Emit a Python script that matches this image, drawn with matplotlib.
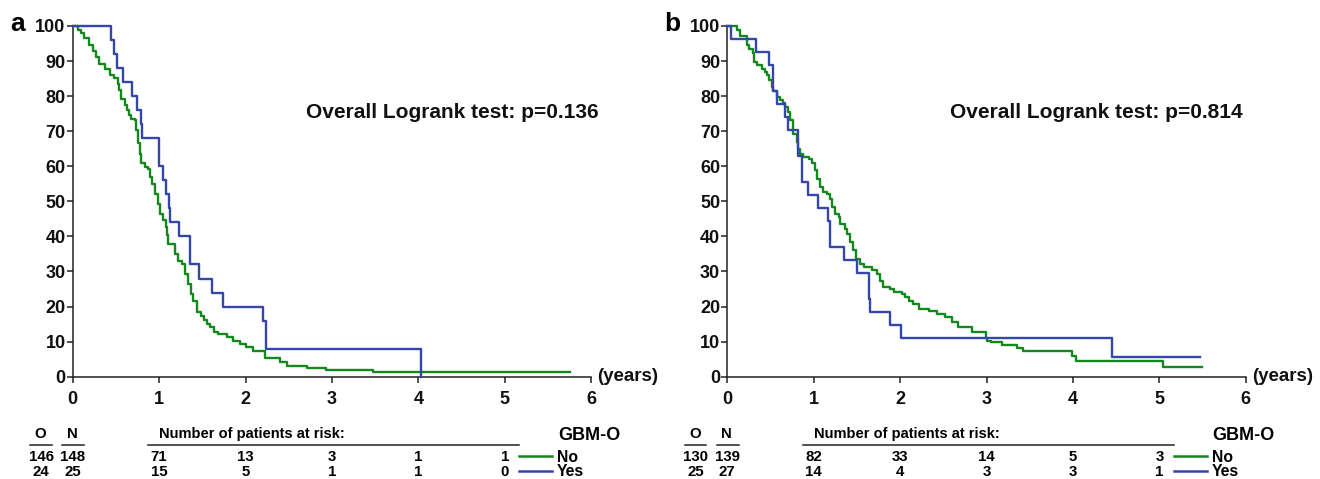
import matplotlib
matplotlib.use("Agg")
import matplotlib.pyplot as plt
from matplotlib.transforms import blended_transform_factory

plt.rcParams['font.family'] = ['Liberation Sans', 'DejaVu Sans']

# ---------------- data ----------------
years_ticks = [0, 1, 2, 3, 4, 5, 6]
surv_ticks = [0, 10, 20, 30, 40, 50, 60, 70, 80, 90, 100]

# Panel a: GBM-O = No
a_no_t = [0, 0.06, 0.10, 0.136, 0.19, 0.23, 0.27, 0.31, 0.37, 0.426,
          0.477, 0.52, 0.54, 0.56, 0.60, 0.63, 0.647, 0.678, 0.717, 0.736,
          0.756, 0.775, 0.795, 0.833, 0.872, 0.89, 0.922, 0.95, 0.988, 1.008,
          1.047, 1.078, 1.09, 1.105, 1.163, 1.18, 1.22, 1.26, 1.30, 1.337, 1.37,
          1.395, 1.434, 1.49, 1.52, 1.55, 1.59, 1.63, 1.686, 1.78, 1.86,
          1.94, 2.0, 2.09, 2.22, 2.40, 2.48, 2.71, 2.93, 3.47, 5.76]
a_no_s = [100, 99, 98, 96.5, 94.6, 93, 91.2, 89.3, 87.6, 86,
          85.3, 83.6, 81.7, 79.3, 77.4, 76, 74.6, 73.6, 73.1, 70.3,
          66.5, 63.6, 60.8, 59.8, 59.3, 57, 55, 52.2, 49.3, 46.5,
          44.6, 42.7, 40.5, 37.9, 37.7, 35, 33.1, 32.2, 29.3, 26.5, 23.6,
          21.7, 18.4, 17.4, 16.3, 15, 14.1, 12.7, 12.2, 11.4, 10.3,
          9.3, 8.4, 7.4, 5.3, 4.1, 3.1, 2.6, 1.9, 1.4, 1.4]
# Panel a: GBM-O = Yes
a_yes_t = [0, 0.438, 0.473, 0.512, 0.58, 0.69, 0.744, 0.787, 0.806, 0.996,
           1.047, 1.085, 1.11, 1.124, 1.23, 1.357, 1.465, 1.61, 1.744, 2.198,
           2.236, 4.03, 4.03]
a_yes_s = [100, 96, 92, 88, 84, 80, 76, 72, 68, 60,
           56, 52, 48, 44, 40, 32, 28, 24, 20, 16,
           8, 0, 0]

# Panel b: GBM-O = No
b_no_t = [0, 0.108, 0.147, 0.224, 0.255, 0.30, 0.313, 0.34, 0.40, 0.437,
          0.456, 0.487, 0.514, 0.533, 0.572, 0.61, 0.65, 0.669, 0.707, 0.727,
          0.765, 0.804, 0.823, 0.843, 0.88, 0.94, 0.978, 1.017, 1.036, 1.075,
          1.113, 1.152, 1.183, 1.21, 1.248, 1.287, 1.307, 1.365, 1.384, 1.422,
          1.453, 1.492, 1.538, 1.577, 1.674, 1.732, 1.77, 1.80, 1.886, 1.925,
          2.02, 2.06, 2.10, 2.15, 2.215, 2.33, 2.43, 2.52, 2.60, 2.667,
          2.83, 2.99, 3.01, 3.046, 3.18, 3.35, 3.42, 3.99, 4.03, 5.045, 5.49]
b_no_s = [100, 98.9, 97.1, 94.6, 93.3, 92.2, 89.8, 88.9, 87.6, 86.9,
          86.0, 84.6, 82.7, 81.5, 79.8, 78.9, 78.1, 76.8, 75.5, 73.1,
          69.3, 67.0, 65.0, 63.6, 62.7, 62.2, 60.8, 58.9, 56.5, 54.1,
          52.7, 52.0, 50.8, 48.4, 46.5, 45.5, 43.6, 42.2, 40.8, 38.4,
          36.0, 33.6, 32.2, 31.2, 30.5, 29.3, 27.4, 25.5, 25.0, 24.1,
          23.6, 22.7, 21.7, 20.8, 19.3, 18.7, 17.9, 17.0, 15.5, 14.1,
          12.7, 11.0, 10.3, 9.8, 8.9, 8.2, 7.2, 5.8, 4.4, 2.9, 2.9]
# Panel b: GBM-O = Yes
b_yes_t = [0, 0.039, 0.332, 0.487, 0.526, 0.572, 0.669, 0.707, 0.823, 0.862,
           0.939, 1.055, 1.16, 1.19, 1.353, 1.5, 1.635, 1.654, 1.886, 2.01,
           4.45, 5.47]
b_yes_s = [100, 96.3, 92.6, 88.9, 81.5, 77.8, 74.1, 70.4, 63.0, 55.6,
           51.9, 48.1, 44.4, 37.0, 33.3, 29.6, 22.2, 18.5, 14.8, 11.1,
           5.6, 5.6]

panel_labels = ['a', 'b']
pvalues = ['Overall Logrank test: p=0.136', 'Overall Logrank test: p=0.814']
group_names = ['No', 'Yes']
observed = [[146, 24], [130, 25]]
totals = [[148, 25], [139, 27]]
risk_times = [1, 2, 3, 4, 5]
at_risk = [
    [[71, 13, 3, 1, 1], [15, 5, 1, 1, 0]],
    [[82, 33, 14, 5, 3], [14, 4, 3, 3, 1]],
]
legend_title = 'GBM-O'

curves = [[(a_no_t, a_no_s), (a_yes_t, a_yes_s)],
          [(b_no_t, b_no_s), (b_yes_t, b_yes_s)]]

GREEN = '#14881c'
BLUE = '#3446a8'
colors = [GREEN, BLUE]

W, H = 1320, 479
fig = plt.figure(figsize=(W / 100, H / 100), dpi=100)

ax_left_px = [72.7, 727.3]
ax_right_offset = 518.5
top_px, bot_px = 26.0, 376.7

for i in range(2):
    l = ax_left_px[i] / W
    ax = fig.add_axes([l, 1 - bot_px / H, ax_right_offset / W, (bot_px - top_px) / H])
    ax.set_xlim(0, 6)
    ax.set_ylim(0, 100)
    for sp in ['top', 'right']:
        ax.spines[sp].set_visible(False)
    for sp in ['left', 'bottom']:
        ax.spines[sp].set_linewidth(1.1)
        ax.spines[sp].set_color('#222222')
    ax.set_xticks(years_ticks)
    ax.set_yticks(surv_ticks)
    ax.tick_params(axis='both', direction='out', length=4.3, width=1.1,
                   colors='#222222', labelsize=13)
    ax.tick_params(axis='y', pad=0.8)
    ax.tick_params(axis='x', pad=6)
    for lab in ax.get_xticklabels() + ax.get_yticklabels():
        lab.set_fontweight('bold')
        lab.set_color('#111111')

    for (t, s), c in zip(curves[i], colors):
        ax.step(t, s, where='post', color=c, lw=1.7, clip_on=False, zorder=3)

    ax.text(6.07, 0, '(years)', fontsize=13.5, fontweight='bold',
            ha='left', va='center', color='#111111', clip_on=False)
    ax.text(2.70 if i == 0 else 2.58, 75.4, pvalues[i], fontsize=15,
            fontweight='bold', ha='left', va='center', color='#111111')

    fig.text((ax_left_px[i] - 62.7) / W, 1 - 31 / H, panel_labels[i],
             fontsize=19, fontweight='bold', va='baseline', ha='left')

    # at-risk table
    tr = blended_transform_factory(ax.transData, fig.transFigure)
    y_head = 1 - 434 / H
    y_line = 1 - 445 / H
    y_rows = [1 - 457 / H, 1 - 471.5 / H]
    fs = 10.8
    ax.text(-0.375, y_head, 'O', transform=tr, fontsize=fs, fontweight='bold',
            ha='center', va='center', clip_on=False)
    ax.text(-0.008, y_head, 'N', transform=tr, fontsize=fs, fontweight='bold',
            ha='center', va='center', clip_on=False)
    ax.plot([-0.49, -0.243], [y_line, y_line], transform=tr, color='#222222',
            lw=1.1, clip_on=False)
    ax.plot([-0.12, 0.131], [y_line, y_line], transform=tr, color='#222222',
            lw=1.1, clip_on=False)
    ax.text(1.0, y_head, 'Number of patients at risk:', transform=tr,
            fontsize=10.5, fontweight='bold', ha='left', va='center', clip_on=False)
    ax.plot([0.875, 5.166], [y_line, y_line], transform=tr, color='#222222',
            lw=1.1, clip_on=False)
    ax.text(6.335, 1 - 436 / H, legend_title, transform=tr, fontsize=13,
            fontweight='bold', ha='right', va='center', clip_on=False)
    for g in range(2):
        yy = y_rows[g]
        ax.text(-0.365, yy, str(observed[i][g]), transform=tr, fontsize=fs,
                fontweight='bold', ha='center', va='center', clip_on=False)
        ax.text(0.0, yy, str(totals[i][g]), transform=tr, fontsize=fs,
                fontweight='bold', ha='center', va='center', clip_on=False)
        for tt, n in zip(risk_times, at_risk[i][g]):
            ax.text(tt, yy, str(n), transform=tr, fontsize=fs,
                    fontweight='bold', ha='center', va='center', clip_on=False)
        ax.plot([5.166, 5.548], [yy + 0.002, yy + 0.002], transform=tr,
                color=colors[g], lw=1.8, clip_on=False)
        ax.text(5.605, yy, group_names[g], transform=tr, fontsize=fs + 0.5,
                fontweight='bold', ha='left', va='center', clip_on=False)

fig.savefig('out.png', dpi=100)
